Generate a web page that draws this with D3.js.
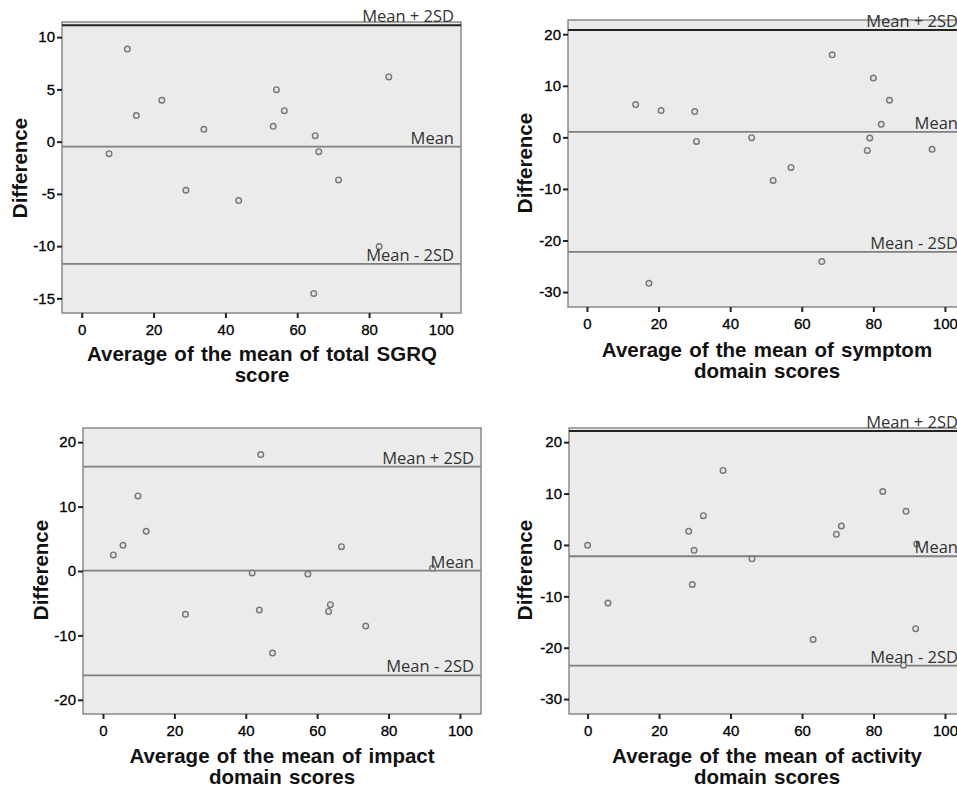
<!DOCTYPE html>
<html>
<head>
<meta charset="utf-8">
<script src="https://cdn.jsdelivr.net/npm/d3@7"></script>
<style>
	body { margin: 0; background: #fff; overflow: hidden; }
	svg { display: block; }
	.tick text { font-family: "Liberation Sans", Arial, sans-serif; font-size: 15px; fill: #000; stroke: #000; stroke-width: 0.3; }
	.tick line { stroke: #222; stroke-width: 2; }
	.title { font-family: "Liberation Sans", Arial, sans-serif; font-weight: bold; font-size: 20.5px; fill: #111; word-spacing: 1.5px; }
</style>
</head>
<body>
<div id="chart"></div>
<script>
// Bland-Altman points: [average, difference]
const totalPoints = [[7.6,-1.15],[12.7,8.86],[15.2,2.49],[22.3,3.96],[29.0,-4.65],[34.0,1.18],[43.7,-5.64],[53.3,1.47],
	[54.2,4.97],[56.4,2.96],[65.0,0.57],[66.0,-0.96],[71.5,-3.66],[85.5,6.19],[82.8,-10.04],[64.6,-14.53]];
const symptomPoints = [[13.6,6.36],[20.7,5.19],[30.1,5.0],[30.6,-0.78],[46.0,-0.06],[52.0,-8.36],[57.0,-5.83],[68.5,16.0],
	[80.0,11.5],[84.5,7.2],[82.2,2.53],[79.0,-0.12],[78.3,-2.53],[96.4,-2.33],[65.6,-24.1],[17.3,-28.3]];
const impactPoints = [[2.9,2.49],[5.6,3.99],[9.8,11.65],[12.1,6.17],[23.1,-6.73],[41.8,-0.31],[43.8,-6.06],[44.2,18.07],
	[47.5,-12.74],[57.4,-0.47],[63.2,-6.27],[63.7,-5.23],[66.8,3.78],[73.6,-8.55],[92.3,0.41]];
const activityPoints = [[0,-0.06],[5.7,-11.3],[28.3,2.65],[29.8,-1.05],[29.3,-7.7],[32.4,5.7],[37.9,14.5],[46.0,-2.7],
	[63.1,-18.4],[69.6,2.06],[71.0,3.69],[82.6,10.4],[89.1,6.55],[91.8,-16.3],[88.4,-23.4],[92.1,0.2]];

// limits: mean + 2SD, mean, mean - 2SD
const totalLimits = [11.15, -0.48, -11.7];
const symptomLimits = [20.8, 1.05, -22.2];
const impactLimits = [16.2, 0.05, -16.2];
const activityLimits = [22.2, -2.2, -23.5];
const limitLabels = ["Mean + 2SD", "Mean", "Mean - 2SD"];

const xTicks = [0, 20, 40, 60, 80, 100];
const totalTicks = [-15, -10, -5, 0, 5, 10];
const wideTicks = [-30, -20, -10, 0, 10, 20];
const impactTicks = [-20, -10, 0, 10, 20];

const panels = [
	{ points: totalPoints, limits: totalLimits, yTicks: totalTicks,
		title: ["Average of the mean of total SGRQ", "score"],
		frame: { left: 62, right: 461, top: 22, bottom: 313 }, x: [-5.5, 105.6], y: [-16.4, 11.45],
		titleX: 262, titleY: 361, diffX: 27, diffY: 168, darkUpper: true },
	{ points: symptomPoints, limits: symptomLimits, yTicks: wideTicks,
		title: ["Average of the mean of symptom", "domain scores"],
		frame: { left: 568, right: 965, top: 20, bottom: 307 }, x: [-5.3, 105.6], y: [-32.9, 22.76],
		titleX: 767, titleY: 357, diffX: 532, diffY: 163, darkUpper: true },
	{ points: impactPoints, limits: impactLimits, yTicks: impactTicks,
		title: ["Average of the mean of impact", "domain scores"],
		frame: { left: 83, right: 481, top: 428, bottom: 714 }, x: [-5.6, 105.9], y: [-22.2, 22.2],
		titleX: 282, titleY: 763, diffX: 48, diffY: 570, darkUpper: false },
	{ points: activityPoints, limits: activityLimits, yTicks: wideTicks,
		title: ["Average of the mean of activity", "domain scores"],
		frame: { left: 569, right: 965, top: 428, bottom: 714 }, x: [-5.2, 105.6], y: [-32.9, 22.76],
		titleX: 767, titleY: 763, diffX: 532, diffY: 570, darkUpper: true }
];

const svg = d3.select("#chart").append("svg")
	.attr("width", 957)
	.attr("height", 788);

panels.forEach(p => {
	const f = p.frame;
	const x = d3.scaleLinear().domain(p.x).range([f.left, f.right]);
	const y = d3.scaleLinear().domain(p.y).range([f.bottom, f.top]);
	const g = svg.append("g");

	g.append("rect")
		.attr("x", f.left).attr("y", f.top)
		.attr("width", f.right - f.left).attr("height", f.bottom - f.top)
		.attr("fill", "#ebebeb")
		.attr("stroke", "#8a8a8a")
		.attr("stroke-width", 1.5);

	g.selectAll("line.limit")
		.data(p.limits)
		.enter()
		.append("line")
			.attr("class", "limit")
			.attr("x1", f.left).attr("x2", f.right)
			.attr("y1", d => y(d)).attr("y2", d => y(d))
			.attr("stroke", (d, i) => i === 0 && p.darkUpper ? "#222" : "#808080")
			.attr("stroke-width", (d, i) => i === 0 && p.darkUpper ? 2 : 1.8);

	g.selectAll("circle")
		.data(p.points)
		.enter()
		.append("circle")
			.attr("cx", d => x(d[0]))
			.attr("cy", d => y(d[1]))
			.attr("r", 2.8)
			.attr("fill", "#e4e4e4")
			.attr("stroke", "#777")
			.attr("stroke-width", 1.4);

	g.selectAll("text.limit")
		.data(p.limits)
		.enter()
		.append("text")
			.attr("class", "limit")
			.attr("x", f.right - 7)
			.attr("y", d => y(d) - 3)
			.attr("text-anchor", "end")
			.style("font-family", "'Open Sans', sans-serif")
			.style("font-size", "16.5px")
			.style("fill", "#333")
			.text((d, i) => limitLabels[i]);

	g.append("g")
		.attr("transform", `translate(0, ${f.bottom})`)
		.call(d3.axisBottom(x).tickValues(xTicks).tickFormat(d => String(d)).tickSize(5).tickPadding(6))
		.call(a => a.select(".domain").remove());

	g.append("g")
		.attr("transform", `translate(${f.left}, 0)`)
		.call(d3.axisLeft(y).tickValues(p.yTicks).tickFormat(d => String(d)).tickSize(5).tickPadding(2))
		.call(a => a.select(".domain").remove());

	g.append("text")
		.attr("class", "title")
		.attr("transform", `translate(${p.diffX}, ${p.diffY}) rotate(-90)`)
		.attr("text-anchor", "middle")
		.text("Difference");

	g.append("text")
		.attr("class", "title")
		.attr("text-anchor", "middle")
		.selectAll("tspan")
		.data(p.title)
		.enter()
		.append("tspan")
			.attr("x", p.titleX)
			.attr("y", (d, i) => p.titleY + i * 21)
			.text(d => d);
});
</script>
</body>
</html>
